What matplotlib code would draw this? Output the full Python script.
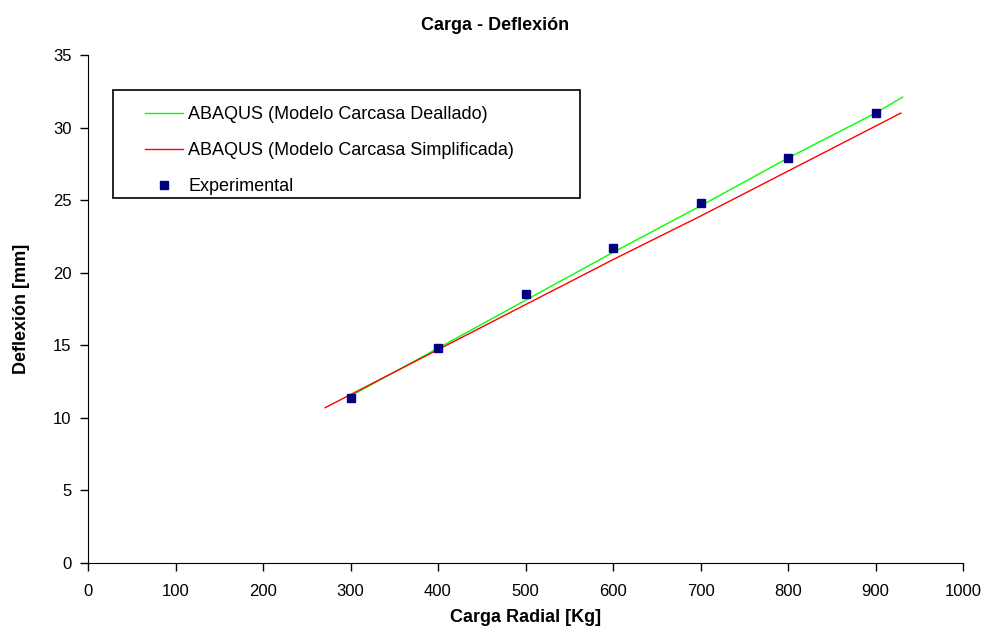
import matplotlib
matplotlib.use('Agg')
import matplotlib.pyplot as plt
from matplotlib.patches import Rectangle

plt.rcParams['font.family'] = ['Liberation Sans', 'DejaVu Sans']

# Curvas de simulación (ABAQUS) y ensayo experimental
carga_detallado = [300, 400, 500, 600, 700, 800, 900, 931]
defl_detallado = [11.5, 14.8, 18.1, 21.4, 24.6, 27.9, 31.0, 32.1]

carga_simple = [271, 400, 500, 600, 700, 800, 900, 929]
defl_simple = [10.7, 14.7, 17.8, 20.9, 23.9, 27.0, 30.1, 31.0]

carga_exp = [300, 400, 500, 600, 700, 800, 900]
defl_exp = [11.4, 14.8, 18.5, 21.7, 24.8, 27.9, 31.0]

W, H = 990, 634
fig = plt.figure(figsize=(W / 100, H / 100), dpi=100)
ax = fig.add_axes([88 / W, 1 - 563 / H, 875 / W, 508 / H])

ax.plot(carga_detallado, defl_detallado, color='#00ff00', lw=1,
        label='ABAQUS (Modelo Carcasa Deallado)')
ax.plot(carga_simple, defl_simple, color='#ff0000', lw=1,
        label='ABAQUS (Modelo Carcasa Simplificada)')
ax.plot(carga_exp, defl_exp, ls='none', marker='s', ms=5.5,
        color='#000080', label='Experimental')

ax.set_xlim(0, 1000)
ax.set_ylim(0, 35)
ax.set_xticks(range(0, 1001, 100))
ax.set_yticks(range(0, 36, 5))
ax.spines['top'].set_visible(False)
ax.spines['right'].set_visible(False)
ax.tick_params(labelsize=12, direction='out', length=6, width=1)
ax.tick_params(axis='x', pad=9)
ax.tick_params(axis='y', pad=6)

ax.set_xlabel('Carga Radial [Kg]', fontsize=13, fontweight='bold', labelpad=7)
ax.set_ylabel('Deflexión [mm]', fontsize=13, fontweight='bold', labelpad=16)
fig.text(0.5, 1 - 25 / H, 'Carga - Deflexión', ha='center', va='center',
         fontsize=13, fontweight='bold')

# leyenda sin marco propio; el recuadro se dibuja aparte
leg = ax.legend(loc='upper left', bbox_to_anchor=(136 / W, 1 - 97 / H),
                bbox_transform=fig.transFigure, fontsize=13, frameon=False,
                borderpad=0, handlelength=2.1, handletextpad=0.3,
                labelspacing=1.05)
fig.add_artist(Rectangle((113 / W, 1 - 198 / H), 467 / W, 108 / H,
                         transform=fig.transFigure, fill=False,
                         edgecolor='black', lw=1.2))

fig.savefig('out.png', dpi=100)
